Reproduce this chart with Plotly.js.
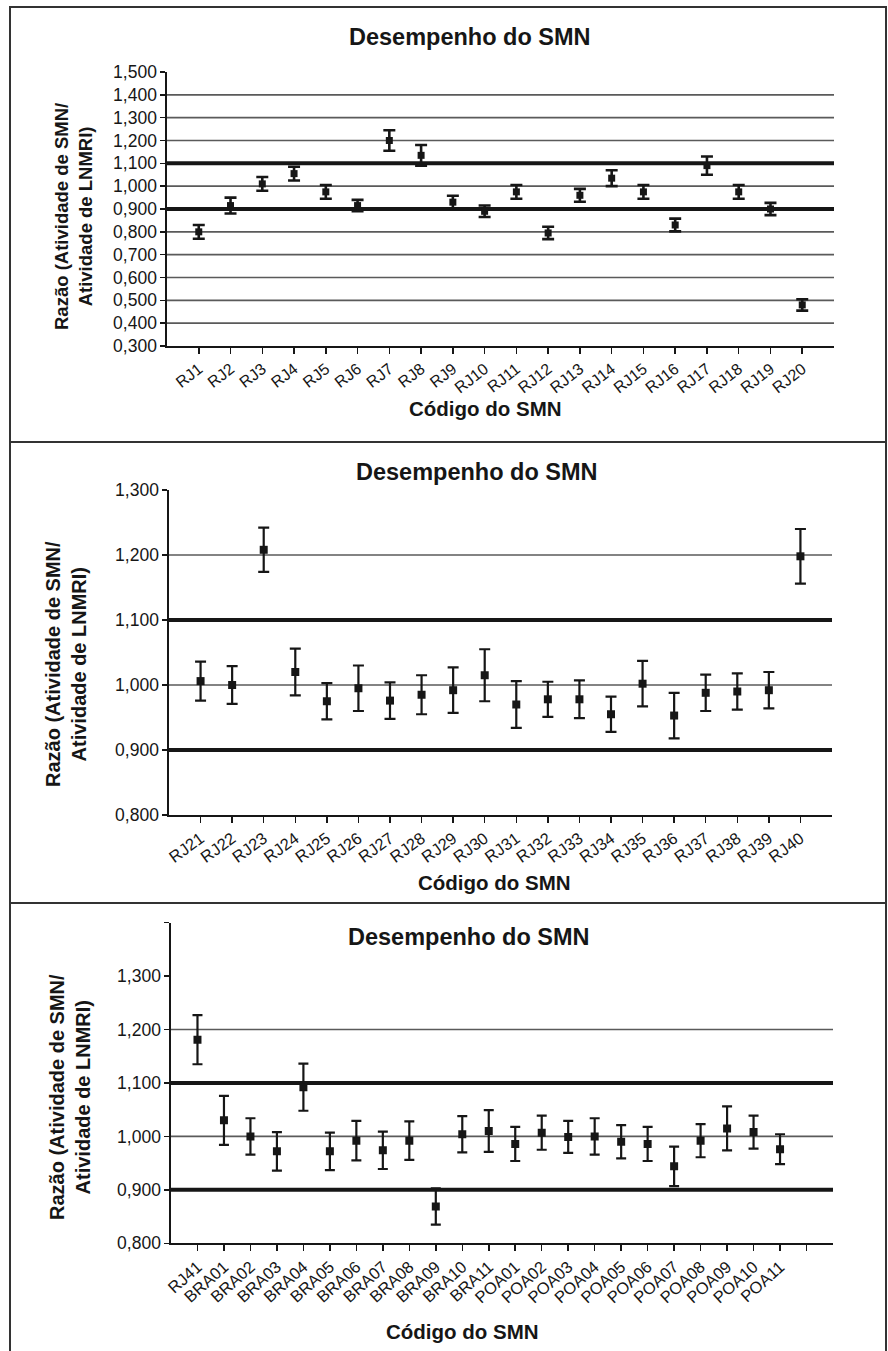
<!DOCTYPE html>
<html>
<head>
<meta charset="utf-8">
<script src="https://cdn.plot.ly/plotly-3.0.1.min.js"></script>
<style>
  html, body { margin: 0; padding: 0; background: #ffffff; }
  #wrap { position: relative; width: 888px; height: 1351px; overflow: hidden; }
  #chart { position: absolute; left: 0; top: 0; width: 888px; height: 1351px; }
  .frame { position: absolute; pointer-events: none; border-color: #333; border-style: solid; }
</style>
</head>
<body>
<div id="wrap">
  <div id="chart"></div>
  <div class="frame" style="left:9px; top:6px; width:874px; height:1360px; border-width:2px 2px 0 2px;"></div>
  <div class="frame" style="left:9px; top:441px; width:876px; height:0; border-width:2px 0 0 0;"></div>
  <div class="frame" style="left:9px; top:902px; width:876px; height:0; border-width:2px 0 0 0;"></div>
</div>
<script>
// ---------------- DATA ----------------
const codes1 = ['RJ1','RJ2','RJ3','RJ4','RJ5','RJ6','RJ7','RJ8','RJ9','RJ10',
                'RJ11','RJ12','RJ13','RJ14','RJ15','RJ16','RJ17','RJ18','RJ19','RJ20'];
const ratio1 = [0.800,0.915,1.010,1.055,0.975,0.915,1.200,1.135,0.930,0.890,
                0.975,0.795,0.960,1.035,0.975,0.830,1.090,0.975,0.900,0.480];
const err1   = [0.030,0.035,0.030,0.030,0.030,0.025,0.045,0.045,0.028,0.025,
                0.030,0.027,0.028,0.035,0.030,0.028,0.040,0.030,0.027,0.025];

const codes2 = ['RJ21','RJ22','RJ23','RJ24','RJ25','RJ26','RJ27','RJ28','RJ29','RJ30',
                'RJ31','RJ32','RJ33','RJ34','RJ35','RJ36','RJ37','RJ38','RJ39','RJ40'];
const ratio2 = [1.006,1.000,1.208,1.020,0.975,0.995,0.976,0.985,0.992,1.015,
                0.970,0.978,0.978,0.955,1.002,0.953,0.988,0.990,0.992,1.198];
const err2   = [0.030,0.029,0.034,0.036,0.028,0.035,0.028,0.030,0.035,0.040,
                0.036,0.027,0.029,0.027,0.035,0.035,0.028,0.028,0.028,0.042];

const codes3 = ['RJ41','BRA01','BRA02','BRA03','BRA04','BRA05','BRA06','BRA07','BRA08','BRA09','BRA10','BRA11',
                'POA01','POA02','POA03','POA04','POA05','POA06','POA07','POA08','POA09','POA10','POA11'];
const ratio3 = [1.181,1.030,1.000,0.972,1.092,0.972,0.992,0.974,0.992,0.869,1.004,1.010,
                0.986,1.007,0.999,1.000,0.990,0.986,0.944,0.992,1.015,1.008,0.976];
const err3   = [0.046,0.046,0.034,0.036,0.044,0.035,0.037,0.035,0.036,0.034,0.034,0.039,
                0.032,0.032,0.030,0.034,0.031,0.032,0.037,0.031,0.041,0.031,0.028];
const xTickText3 = codes3.concat(['']);   // one extra, unlabelled category tick

const yTicks1 = [0.3,0.4,0.5,0.6,0.7,0.8,0.9,1.0,1.1,1.2,1.3,1.4,1.5];
const yLabels1 = ['0,300','0,400','0,500','0,600','0,700','0,800','0,900','1,000','1,100','1,200','1,300','1,400','1,500'];
const yTicks2 = [0.8,0.9,1.0,1.1,1.2,1.3];
const yLabels2 = ['0,800','0,900','1,000','1,100','1,200','1,300'];
const yTicks3 = [0.8,0.9,1.0,1.1,1.2,1.3,1.4];
const yLabels3 = ['0,800','0,900','1,000','1,100','1,200','1,300',''];

const limits = [0.9, 1.1];              // acceptance limits (thick lines)
const grid1 = [0.4,0.5,0.6,0.7,0.8,1.0,1.2,1.3,1.4];
const grid2 = [1.0, 1.2];
const grid3 = [1.0, 1.2];

const chartTitle = 'Desempenho do SMN';
const xTitle = 'Código do SMN';
const yTitle = 'Razão (Atividade de SMN/<br>Atividade de LNMRI)';

// ---------------- LAYOUT HELPERS ----------------
const W = 888, H = 1351;
const px = v => v / W;
const py = v => 1 - v / H;
const FONT = 'Liberation Sans, Arial, Helvetica, sans-serif';
const INK = '#161616';
const idx = arr => arr.map((_, i) => i);

function trace(codes, ratio, err, xa, ya, msize, cap, thick) {
  return {
    type: 'scatter', mode: 'markers',
    x: idx(codes), y: ratio, text: codes,
    xaxis: xa, yaxis: ya,
    marker: { symbol: 'square', size: msize, color: INK },
    error_y: { type: 'data', array: err, visible: true, color: INK, thickness: thick, width: cap },
    hovertemplate: '%{text}: %{y:.3f} ± %{error_y.array:.3f}<extra></extra>',
    showlegend: false
  };
}

function xAxis(dom, anchor, n, tickText, angle, fsize) {
  return {
    domain: dom, anchor: anchor, range: [-1, n],
    tickmode: 'array', tickvals: idx(tickText), ticktext: tickText,
    tickangle: angle, tickfont: { family: FONT, size: fsize, color: INK },
    ticks: 'outside', ticklen: 6, tickwidth: 1.5, tickcolor: INK,
    showline: true, linecolor: INK, linewidth: 1.6,
    showgrid: false, zeroline: false, automargin: false, fixedrange: true
  };
}
function yAxis(dom, anchor, range, tv, tt) {
  return {
    domain: dom, anchor: anchor, range: range,
    tickmode: 'array', tickvals: tv, ticktext: tt,
    tickfont: { family: FONT, size: 17.5, color: INK },
    ticks: 'outside', ticklen: 5, tickwidth: 1.5, tickcolor: INK,
    showline: true, linecolor: INK, linewidth: 1.6,
    showgrid: false, zeroline: false, automargin: false, fixedrange: true
  };
}
function hLines(vals, xa, ya, width, color) {
  return vals.map(v => ({
    type: 'line', xref: xa + ' domain', yref: ya, x0: 0, x1: 1, y0: v, y1: v,
    line: { color: color, width: width }, layer: 'below'
  }));
}
function note(text, x, y, size, angle) {
  return { text: text, x: px(x), y: py(y), xref: 'paper', yref: 'paper',
           showarrow: false, textangle: angle || 0, xanchor: 'center', yanchor: 'middle',
           font: { family: FONT, size: size, color: INK } };
}

const data = [
  trace(codes1, ratio1, err1, 'x',  'y',  7, 6, 2.6),
  trace(codes2, ratio2, err2, 'x2', 'y2', 8, 5.5, 2.2),
  trace(codes3, ratio3, err3, 'x3', 'y3', 8, 5, 2.2)
];

const layout = {
  width: W, height: H,
  margin: { l: 0, r: 0, t: 0, b: 0 },
  paper_bgcolor: '#ffffff', plot_bgcolor: 'rgba(0,0,0,0)',
  font: { family: FONT, color: INK },
  showlegend: false,
  xaxis:  xAxis([px(167), px(834)], 'y',  codes1.length, codes1, -38, 16),
  yaxis:  yAxis([py(346), py(72)],  'x',  [0.3, 1.5], yTicks1, yLabels1),
  xaxis2: xAxis([px(169), px(832)], 'y2', codes2.length, codes2, -36, 16.5),
  yaxis2: yAxis([py(815), py(490)], 'x2', [0.8, 1.3], yTicks2, yLabels2),
  xaxis3: xAxis([px(171), px(833)], 'y3', xTickText3.length, xTickText3, -42, 16.5),
  yaxis3: yAxis([py(1243.3), py(922.6)], 'x3', [0.8, 1.4], yTicks3, yLabels3),
  shapes: [].concat(
    hLines(grid1, 'x', 'y', 1.6, '#5a5a5a'),
    hLines(limits, 'x', 'y', 4, INK),
    hLines(grid2, 'x2', 'y2', 1.6, '#5a5a5a'),
    hLines(limits, 'x2', 'y2', 4, INK),
    hLines(grid3, 'x3', 'y3', 1.6, '#5a5a5a'),
    hLines(limits, 'x3', 'y3', 4, INK)
  ),
  annotations: [
    note('<b>' + chartTitle + '</b>', 470, 37, 23.5),
    note('<b>' + chartTitle + '</b>', 477, 472, 23.5),
    note('<b>' + chartTitle + '</b>', 469, 937, 23.5),
    note('<b>' + xTitle + '</b>', 486, 408, 20.5),
    note('<b>' + xTitle + '</b>', 494, 882, 20.5),
    note('<b>' + xTitle + '</b>', 463, 1331, 20.5),
    note('<b>' + yTitle + '</b>', 73, 217, 18.5, -90),
    note('<b>' + yTitle + '</b>', 66, 664, 20, -90),
    note('<b>' + yTitle + '</b>', 70, 1097, 20, -90)
  ]
};

Plotly.newPlot('chart', data, layout, { displayModeBar: false, staticPlot: true });
</script>
</body>
</html>
